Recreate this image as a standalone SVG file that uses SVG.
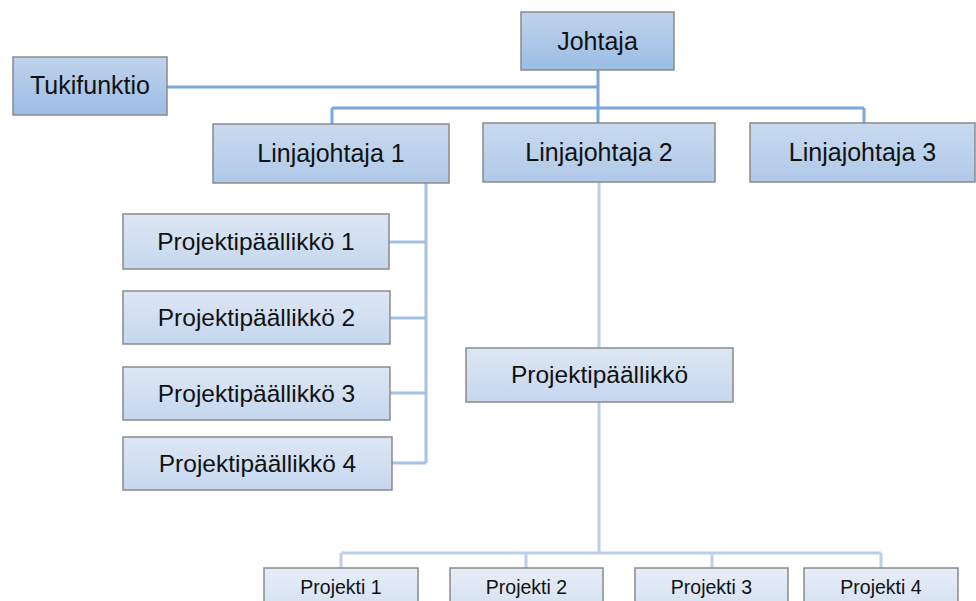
<svg xmlns="http://www.w3.org/2000/svg" width="976" height="601" viewBox="0 0 976 601">
<defs>
<linearGradient id="g1" x1="0" y1="0" x2="0" y2="1"><stop offset="0" stop-color="#bfd3ec"/><stop offset="1" stop-color="#9bbde5"/></linearGradient>
<linearGradient id="g2" x1="0" y1="0" x2="0" y2="1"><stop offset="0" stop-color="#c9daef"/><stop offset="1" stop-color="#b0c9e9"/></linearGradient>
<linearGradient id="g3" x1="0" y1="0" x2="0" y2="1"><stop offset="0" stop-color="#dde7f4"/><stop offset="1" stop-color="#c5d7ee"/></linearGradient>
<linearGradient id="g4" x1="0" y1="0" x2="0" y2="1"><stop offset="0" stop-color="#e6edf7"/><stop offset="1" stop-color="#d6e2f2"/></linearGradient>
</defs>
<style>
rect{stroke:#8a8a8a;stroke-width:1.5}
.l1 rect{fill:url(#g1)}
.l2 rect{fill:url(#g2)}
.l3 rect{fill:url(#g3)}
.l4 rect{fill:url(#g4)}
text{font-family:"Liberation Sans",Arial,sans-serif;fill:#111;text-anchor:middle}
.big{font-size:25px}
.mid{font-size:24.5px}
.sm{font-size:19.5px}
.c1{fill:none;stroke:#7ba7d9;stroke-width:3}
.c2{fill:none;stroke:#a5c1e5;stroke-width:3}
.c3{fill:none;stroke:#bccfe9;stroke-width:3}
</style>
<g id="connectors">
<path class="c1" d="M598 70V123M167 87H598M332 108H864M332 108V124M864 108V123"/>
<path class="c2" d="M426 183V463M389 242H426M390 318H426M390 393H426M392 463H426"/>
<path class="c3" d="M599 182V348M599 402V553M341 553H881M341 553V568M526 553V568M712 553V568M881 553V568"/>
</g>
<g id="johtaja" class="l1"><rect x="521" y="12" width="153" height="58"/><text class="big" x="597.5" y="50">Johtaja</text></g>
<g id="tukifunktio" class="l1"><rect x="13" y="57" width="154" height="58"/><text class="big" x="90" y="94">Tukifunktio</text></g>
<g id="linjajohtaja1" class="l2"><rect x="213" y="124" width="236" height="59"/><text class="big" x="331" y="162">Linjajohtaja 1</text></g>
<g id="linjajohtaja2" class="l2"><rect x="483" y="123" width="232" height="59"/><text class="big" x="599" y="161">Linjajohtaja 2</text></g>
<g id="linjajohtaja3" class="l2"><rect x="750" y="123" width="225" height="59"/><text class="big" x="862.5" y="161">Linjajohtaja 3</text></g>
<g id="pp1" class="l3"><rect x="123" y="214" width="266" height="55"/><text class="mid" x="256" y="250">Projektipäällikkö 1</text></g>
<g id="pp2" class="l3"><rect x="123" y="291" width="267" height="53"/><text class="mid" x="256.5" y="326">Projektipäällikkö 2</text></g>
<g id="pp3" class="l3"><rect x="123" y="367" width="267" height="53"/><text class="mid" x="256.5" y="402">Projektipäällikkö 3</text></g>
<g id="pp4" class="l3"><rect x="123" y="437" width="269" height="53"/><text class="mid" x="257.5" y="472">Projektipäällikkö 4</text></g>
<g id="pp" class="l3"><rect x="466" y="348" width="267" height="54"/><text class="mid" x="599.5" y="383">Projektipäällikkö</text></g>
<g id="projekti1" class="l4"><rect x="264" y="568" width="154" height="40"/><text class="sm" x="341" y="594">Projekti 1</text></g>
<g id="projekti2" class="l4"><rect x="450" y="568" width="153" height="40"/><text class="sm" x="526.5" y="594">Projekti 2</text></g>
<g id="projekti3" class="l4"><rect x="635" y="568" width="153" height="40"/><text class="sm" x="711.5" y="594">Projekti 3</text></g>
<g id="projekti4" class="l4"><rect x="804" y="568" width="154" height="40"/><text class="sm" x="881" y="594">Projekti 4</text></g>
</svg>
